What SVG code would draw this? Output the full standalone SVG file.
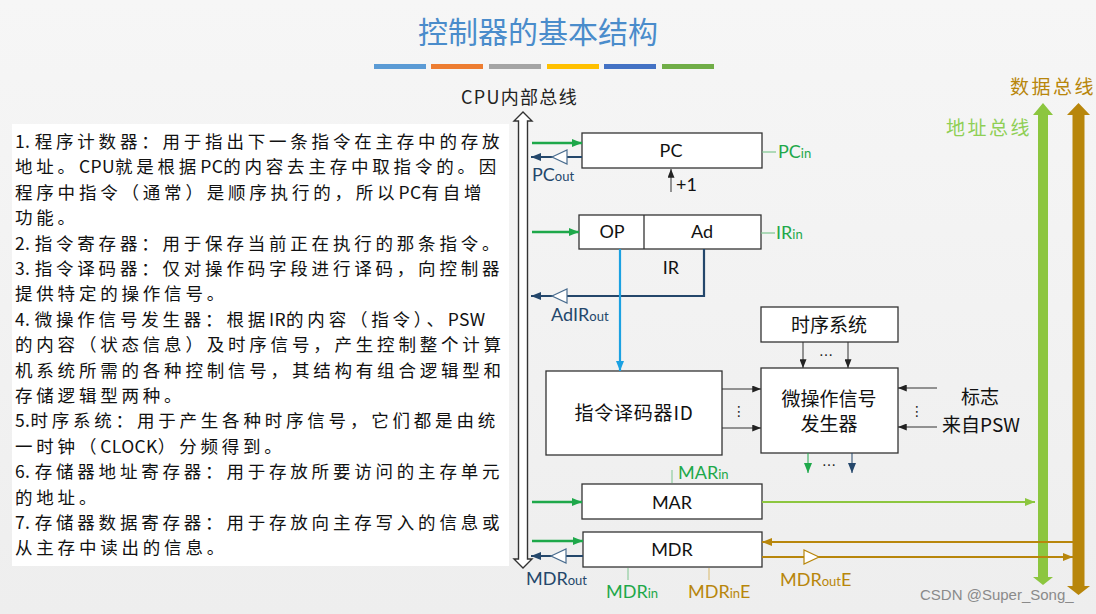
<svg xmlns="http://www.w3.org/2000/svg" width="1096" height="614" viewBox="0 0 1096 614">
  <defs>
    <linearGradient id="bg" x1="0" y1="0" x2="0" y2="1">
      <stop offset="0" stop-color="#f6f6f6"/>
      <stop offset="1" stop-color="#eeeeee"/>
    </linearGradient>
    <marker id="aG" viewBox="0 0 10 8" refX="10" refY="4" markerWidth="10" markerHeight="8" markerUnits="userSpaceOnUse" orient="auto"><path d="M0,0 L10,4 L0,8 z" fill="#1ea84a"/></marker>
    <marker id="aB" viewBox="0 0 10 8" refX="10" refY="4" markerWidth="10" markerHeight="8" markerUnits="userSpaceOnUse" orient="auto"><path d="M0,0 L10,4 L0,8 z" fill="#24476b"/></marker>
    <marker id="aLB" viewBox="0 0 10 8" refX="10" refY="4" markerWidth="10" markerHeight="8" markerUnits="userSpaceOnUse" orient="auto"><path d="M0,0 L10,4 L0,8 z" fill="#1ba1e2"/></marker>
    <marker id="aK" viewBox="0 0 10 8" refX="10" refY="4" markerWidth="9" markerHeight="7" markerUnits="userSpaceOnUse" orient="auto"><path d="M0,0 L10,4 L0,8 z" fill="#222"/></marker>
    <marker id="aBr" viewBox="0 0 10 8" refX="10" refY="4" markerWidth="10" markerHeight="8" markerUnits="userSpaceOnUse" orient="auto"><path d="M0,0 L10,4 L0,8 z" fill="#b8860b"/></marker>
    <marker id="aLG" viewBox="0 0 10 8" refX="10" refY="4" markerWidth="10" markerHeight="8" markerUnits="userSpaceOnUse" orient="auto"><path d="M0,0 L10,4 L0,8 z" fill="#8cc63f"/></marker>
  </defs>
  <style>
    .cjk { font-family: "Noto Sans CJK SC", "Noto Sans", sans-serif; }
    .lbl { font-family: Lato, "Noto Sans CJK SC", sans-serif; }
    .desc { font-family: "Noto Sans CJK SC", sans-serif; font-size: 17.5px; fill: #111; letter-spacing: 3.8px; }
    .l { letter-spacing: 0.4px; }
    .box { fill: #ffffff; stroke: #333; stroke-width: 1.3; }
    .reg { font-family: Lato, "Noto Sans CJK SC", sans-serif; font-size: 18px; fill: #111; text-anchor: middle; }
    .zh { font-family: "Noto Sans CJK SC", sans-serif; font-size: 19px; fill: #111; text-anchor: middle; }
    .green { fill: #1ea84a; }
    .dblue { fill: #24476b; }
    .brown { fill: #b8860b; }
    .sig { font-family: Lato, "Noto Sans CJK SC", sans-serif; font-size: 18px; }
    .sub { font-size: 13px; }
    .gin { stroke: #1ea84a; stroke-width: 2.5; fill: none; }
    .bout { stroke: #24476b; stroke-width: 2.2; fill: none; }
    .thin { stroke: #333; stroke-width: 1; fill: none; }
    .buf { fill: #ffffff; stroke: #4a6d8f; stroke-width: 1.2; }
    .bufbr { fill: #ffffff; stroke: #b8860b; stroke-width: 1.2; }
  </style>

  <rect x="0" y="0" width="1096" height="614" fill="url(#bg)"/>

  <!-- title -->
  <text x="538" y="43" text-anchor="middle" class="cjk" font-size="30" fill="#4a8ccb">控制器的基本结构</text>
  <g id="title-bars">
    <rect x="374" y="64" width="52" height="5" fill="#5b9bd5"/>
    <rect x="431" y="64" width="52" height="5" fill="#ed7d31"/>
    <rect x="489" y="64" width="52" height="5" fill="#a5a5a5"/>
    <rect x="547" y="64" width="52" height="5" fill="#ffc000"/>
    <rect x="604" y="64" width="52" height="5" fill="#4472c4"/>
    <rect x="662" y="64" width="52" height="5" fill="#70ad47"/>
  </g>

  <!-- description text -->
  <g id="description">
    <rect x="12" y="124" width="497" height="442" fill="#ffffff"/>
    <text class="desc" x="15" y="148"><tspan class="l">1. </tspan>程序计数器：用于指出下一条指令在主存中的存放</text>
    <text class="desc" x="15" y="173">地址。<tspan class="l">CPU</tspan>就是根据<tspan class="l">PC</tspan>的内容去主存中取指令的。因</text>
    <text class="desc" x="15" y="199">程序中指令（通常）是顺序执行的，所以<tspan class="l">PC</tspan>有自增</text>
    <text class="desc" x="15" y="224">功能。</text>
    <text class="desc" x="15" y="250"><tspan class="l">2. </tspan>指令寄存器：用于保存当前正在执行的那条指令。</text>
    <text class="desc" x="15" y="275"><tspan class="l">3. </tspan>指令译码器：仅对操作码字段进行译码，向控制器</text>
    <text class="desc" x="15" y="300">提供特定的操作信号。</text>
    <text class="desc" x="15" y="326"><tspan class="l">4. </tspan>微操作信号发生器：根据<tspan class="l">IR</tspan>的内容（指令）、<tspan class="l">PSW</tspan></text>
    <text class="desc" x="15" y="351">的内容（状态信息）及时序信号，产生控制整个计算</text>
    <text class="desc" x="15" y="377">机系统所需的各种控制信号，其结构有组合逻辑型和</text>
    <text class="desc" x="15" y="402">存储逻辑型两种。</text>
    <text class="desc" x="15" y="427"><tspan class="l">5.</tspan>时序系统：用于产生各种时序信号，它们都是由统</text>
    <text class="desc" x="15" y="453">一时钟（<tspan class="l">CLOCK</tspan>）分频得到。</text>
    <text class="desc" x="15" y="478"><tspan class="l">6. </tspan>存储器地址寄存器：用于存放所要访问的主存单元</text>
    <text class="desc" x="15" y="504">的地址。</text>
    <text class="desc" x="15" y="529"><tspan class="l">7. </tspan>存储器数据寄存器：用于存放向主存写入的信息或</text>
    <text class="desc" x="15" y="554">从主存中读出的信息。</text>
  </g>

  <!-- CPU internal bus -->
  <g id="cpu-bus">
    <text x="461" y="104" class="cjk" font-size="18" letter-spacing="1.3" fill="#222">CPU内部总线</text>
    <path d="M523,112 L514,121 L518.5,121 L518.5,559 L514,559 L523,568 L532,559 L527.5,559 L527.5,121 L532,121 Z" fill="#ffffff" stroke="#333" stroke-width="1.4"/>
  </g>

  <!-- address bus -->
  <g id="address-bus">
    <text x="946" y="135" class="cjk" font-size="19" letter-spacing="2.5" fill="#8fcf55">地址总线</text>
    <path d="M1043,103 L1053,115 L1048,115 L1048,577 L1053,577 L1043,585 L1033,577 L1038,577 L1038,115 L1033,115 Z" fill="#8cc63f"/>
  </g>

  <!-- data bus -->
  <g id="data-bus">
    <text x="1010" y="94" class="cjk" font-size="19" letter-spacing="2.5" fill="#b8860b">数据总线</text>
    <path d="M1078.5,103 L1090,115 L1084.5,115 L1084.5,586 L1090,586 L1078.5,595 L1067,586 L1072.5,586 L1072.5,115 L1067,115 Z" fill="#b8860b"/>
  </g>

  <!-- PC -->
  <g id="pc">
    <rect class="box" x="582" y="133" width="180" height="35"/>
    <text class="reg" x="671" y="157">PC</text>
  </g>

  <!-- IR -->
  <g id="ir">
    <rect class="box" x="579" y="215" width="182" height="34"/>
    <line x1="644" y1="215" x2="644" y2="249" stroke="#333" stroke-width="1.3"/>
    <text class="reg" x="612" y="238">OP</text>
    <text class="reg" x="702" y="238">Ad</text>
    <text class="reg" x="671" y="274">IR</text>
  </g>

  <!-- instruction decoder -->
  <g id="decoder">
    <rect class="box" x="546" y="371" width="176" height="84"/>
    <text class="zh" x="634" y="420" font-size="20" letter-spacing="0.8">指令译码器ID</text>
  </g>

  <!-- timing system -->
  <g id="timing">
    <rect class="box" x="761" y="307" width="137" height="35"/>
    <text class="zh" x="829" y="332">时序系统</text>
  </g>

  <!-- micro-operation signal generator -->
  <g id="generator">
    <rect class="box" x="761" y="368" width="137" height="85"/>
    <text class="zh" x="829" y="406" font-size="20">微操作信号</text>
    <text class="zh" x="829" y="431" font-size="20">发生器</text>
  </g>

  <!-- MAR -->
  <g id="mar">
    <rect class="box" x="582" y="484" width="180" height="35"/>
    <text class="reg" x="672" y="509">MAR</text>
  </g>

  <!-- MDR -->
  <g id="mdr">
    <rect class="box" x="583" y="532" width="179" height="35"/>
    <text class="reg" x="672" y="556">MDR</text>
  </g>

  <!-- PSW flags label -->
  <g id="psw-flags">
    <text class="zh" x="980" y="404">标志</text>
    <text class="zh" x="981" y="432">来自PSW</text>
  </g>

  <!-- connectors -->
  <g id="connectors">
    <!-- PC -->
    <line class="gin" x1="532" y1="143" x2="582" y2="143" marker-end="url(#aG)"/>
    <line class="bout" x1="582" y1="157" x2="531" y2="157" marker-end="url(#aB)"/>
    <polygon class="buf" points="552,157 567,150 567,164"/>
    <line x1="762" y1="152" x2="776" y2="152" stroke="#7dc68f" stroke-width="1.2"/>
    <line class="thin" x1="671" y1="192" x2="671" y2="169" marker-end="url(#aK)"/>
    <!-- IR -->
    <line class="gin" x1="532" y1="232" x2="579" y2="232" marker-end="url(#aG)"/>
    <line x1="761" y1="233" x2="775" y2="233" stroke="#7dc68f" stroke-width="1.2"/>
    <polyline class="bout" points="704,249 704,296 531,296" marker-end="url(#aB)"/>
    <polygon class="buf" points="552,296 567,289 567,303"/>
    <line x1="620" y1="249" x2="620" y2="371" stroke="#1ba1e2" stroke-width="2.2" marker-end="url(#aLB)"/>
    <!-- decoder to generator -->
    <line class="thin" x1="722" y1="389" x2="761" y2="389" marker-end="url(#aK)"/>
    <line class="thin" x1="722" y1="428" x2="761" y2="428" marker-end="url(#aK)"/>
    <!-- timing to generator -->
    <line class="thin" x1="803" y1="342" x2="803" y2="368" marker-end="url(#aK)"/>
    <line class="thin" x1="848" y1="342" x2="848" y2="368" marker-end="url(#aK)"/>
    <!-- flags to generator -->
    <line class="thin" x1="937" y1="388" x2="898" y2="388" marker-end="url(#aK)"/>
    <line class="thin" x1="937" y1="427" x2="898" y2="427" marker-end="url(#aK)"/>
    <!-- generator outputs -->
    <line x1="808" y1="453" x2="808" y2="473" stroke="#1ea84a" stroke-width="1" marker-end="url(#aG)"/>
    <line x1="852" y1="453" x2="852" y2="473" stroke="#24476b" stroke-width="1" marker-end="url(#aB)"/>
    <!-- MAR -->
    <line class="gin" x1="532" y1="502" x2="582" y2="502" marker-end="url(#aG)"/>
    <line x1="762" y1="502" x2="1035" y2="502" stroke="#8cc63f" stroke-width="2.2" marker-end="url(#aLG)"/>
    <line x1="672" y1="470" x2="672" y2="483" stroke="#7dc68f" stroke-width="1"/>
    <!-- MDR -->
    <line class="gin" x1="532" y1="541" x2="583" y2="541" marker-end="url(#aG)"/>
    <line class="bout" x1="583" y1="556" x2="531" y2="556" marker-end="url(#aB)"/>
    <polygon class="buf" points="551,556 566,549 566,563"/>
    <line x1="1073" y1="542" x2="762" y2="542" stroke="#b8860b" stroke-width="2" marker-end="url(#aBr)"/>
    <line x1="762" y1="557" x2="1073" y2="557" stroke="#b8860b" stroke-width="2" marker-end="url(#aBr)"/>
    <polygon class="bufbr" points="819,557 804,550 804,564"/>
    <line x1="628" y1="568" x2="628" y2="580" stroke="#7dc68f" stroke-width="1"/>
    <line x1="709" y1="568" x2="709" y2="580" stroke="#d9b96a" stroke-width="1"/>
  </g>

  <!-- ellipsis marks -->
  <g id="ellipses" font-family="'DejaVu Sans', sans-serif" font-size="14" fill="#222" text-anchor="middle">
    <text x="826" y="356">…</text>
    <text x="829" y="466">…</text>
    <text x="739" y="416">⋮</text>
    <text x="917" y="416">⋮</text>
  </g>

  <!-- signal labels -->
  <g id="signal-labels">
    <text class="sig green" x="778" y="158">PC<tspan class="sub">in</tspan></text>
    <text class="sig green" x="776" y="239">IR<tspan class="sub">in</tspan></text>
    <text class="sig dblue" x="532" y="181">PC<tspan class="sub">out</tspan></text>
    <text class="sig dblue" x="551" y="321">AdIR<tspan class="sub">out</tspan></text>
    <text class="sig green" x="678" y="479">MAR<tspan class="sub">in</tspan></text>
    <text class="sig dblue" x="526" y="585">MDR<tspan class="sub">out</tspan></text>
    <text class="sig green" x="606" y="598">MDR<tspan class="sub">in</tspan></text>
    <text class="sig brown" x="688" y="598">MDR<tspan class="sub">in</tspan>E</text>
    <text class="sig brown" x="780" y="586">MDR<tspan class="sub">out</tspan>E</text>
    <text x="676" y="191" class="lbl" font-size="18" fill="#111">+1</text>
  </g>

  <text x="920" y="600" font-family="'Liberation Sans', Arial, sans-serif" font-size="15" fill="#8a8a8a">CSDN @Super_Song_</text>
</svg>
